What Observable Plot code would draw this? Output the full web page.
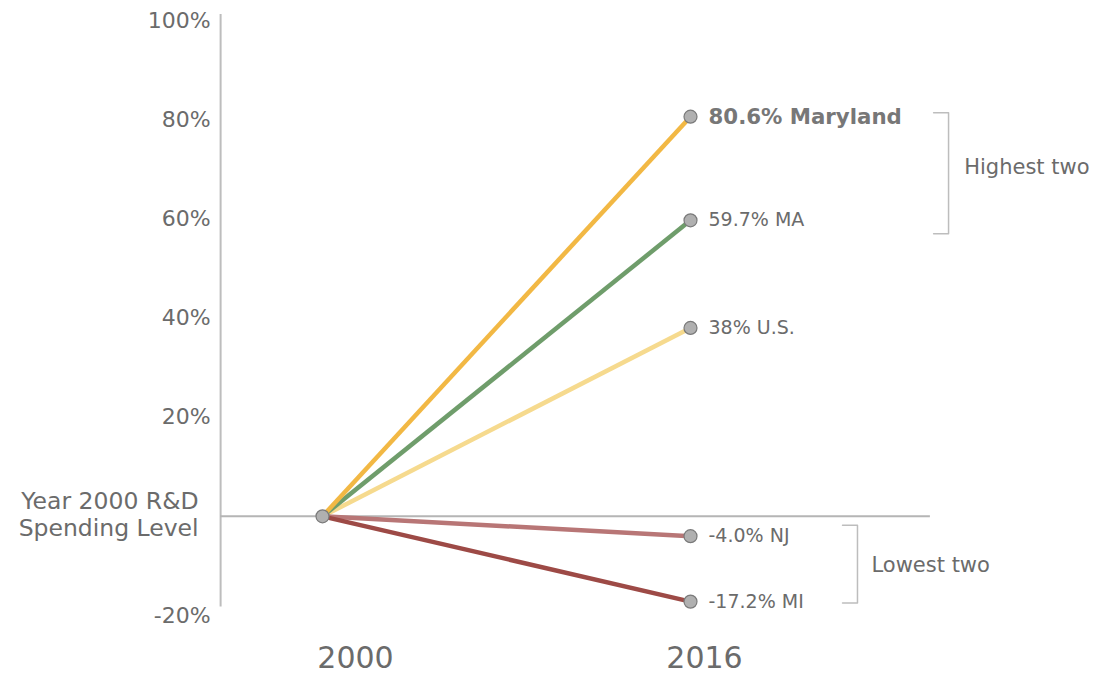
<!DOCTYPE html>
<html><head><meta charset="utf-8">
<script src="https://cdn.jsdelivr.net/npm/d3@7"></script>
<script src="https://cdn.jsdelivr.net/npm/@observablehq/plot@0.6"></script>
<style>body{margin:0;background:#fff}svg{overflow:visible}</style>
</head><body><div id="chart"></div>
<script>
const years = [2000, 2016];
const series = ["U.S.", "MA", "Maryland", "NJ", "MI"];
const change2016 = [38, 59.7, 80.6, -4.0, -17.2];
const labels = ["38% U.S.", "59.7% MA", "80.6% Maryland", "-4.0% NJ", "-17.2% MI"];
const colors = ["#f6da8e", "#6f9d6b", "#f2b844", "#b87676", "#9d4a46"];
const yTicks = [100, 80, 60, 40, 20, -20];
const yTickLabels = ["100%", "80%", "60%", "40%", "20%", "-20%"];
const baselineLabel = "Year 2000 R&D\nSpending Level";
// annotation anchors in data units
const axisX = 1995.57, zeroLineEnd = 2026.43;
const highBracket = {x0: 2026.57, x1: 2027.22, top: 81.4, bottom: 57.0, labelX: 2027.9, labelY: 70.4, text: "Highest two"};
const lowBracket = {x0: 2022.61, x1: 2023.26, top: -1.8, bottom: -17.5, labelX: 2023.87, labelY: -9.9, text: "Lowest two"};

const rows = series.flatMap((s, i) => [
  {series: s, year: years[0], value: 0, color: colors[i]},
  {series: s, year: years[1], value: change2016[i], color: colors[i]}
]);
const ends = series.map((s, i) => ({series: s, year: years[1], value: change2016[i], label: labels[i]}));
const ticks = yTicks.map((v, i) => ({v, label: yTickLabels[i]}));
const bracketPts = b => [
  {x: b.x0, y: b.top}, {x: b.x1, y: b.top}, {x: b.x1, y: b.bottom}, {x: b.x0, y: b.bottom}
];
const font = "DejaVu Sans, sans-serif";
const txt = "#6b6b6b";

const chart = Plot.plot({
  width: 1108, height: 675,
  marginLeft: 322, marginRight: 418, marginTop: 20, marginBottom: 60,
  style: {fontFamily: font, background: "#fff", overflow: "visible"},
  x: {domain: [2000, 2016], axis: null},
  y: {domain: [-20, 100], axis: null},
  marks: [
    Plot.ruleX([axisX], {y1: -18.3, y2: 101.2, stroke: "#bdbdbd", strokeWidth: 2}),
    Plot.ruleY([0], {x1: axisX, x2: zeroLineEnd, stroke: "#b5b5b5", strokeWidth: 2}),
    Plot.text(ticks, {x: axisX, y: "v", text: "label", textAnchor: "end", dx: -10, fontSize: 22, fill: txt}),
    Plot.text([baselineLabel], {x: axisX, y: 0, text: d => d, textAnchor: "end", dx: -22, dy: -2, fontSize: 23.5, lineHeight: 1.15, fill: txt}),
    Plot.text([years[0]], {x: d => d, y: -20, text: d => String(d), dx: 33, dy: 43, fontSize: 30, fill: txt}),
    Plot.text([years[1]], {x: d => d, y: -20, text: d => String(d), dx: 14, dy: 43, fontSize: 30, fill: txt}),
    ...series.map(s => Plot.line(rows.filter(r => r.series === s), {
      x: "year", y: "value", stroke: d => d.color, strokeWidth: 4.5, strokeLinecap: "butt"
    })),
    Plot.dot(ends, {x: "year", y: "value", r: 6.5, fill: "#b0b0b0", stroke: "#7a7a7a", strokeWidth: 1.2}),
    Plot.dot([0], {x: years[0], y: 0, r: 6.5, fill: "#b0b0b0", stroke: "#7a7a7a", strokeWidth: 1.2}),
    Plot.text(ends.filter(d => d.series !== "Maryland"), {x: "year", y: "value", text: "label", textAnchor: "start", dx: 18, fontSize: 19, fill: txt}),
    Plot.text(ends.filter(d => d.series === "Maryland"), {x: "year", y: "value", text: "label", textAnchor: "start", dx: 18, fontSize: 21.3, fontWeight: "bold", fill: "#777"}),
    Plot.line(bracketPts(highBracket), {x: "x", y: "y", stroke: "#bdbdbd", strokeWidth: 1.5}),
    Plot.line(bracketPts(lowBracket), {x: "x", y: "y", stroke: "#bdbdbd", strokeWidth: 1.5}),
    Plot.text([highBracket, lowBracket], {x: "labelX", y: "labelY", text: "text", textAnchor: "start", fontSize: 21, fill: txt})
  ]
});
document.getElementById("chart").appendChild(chart);
</script>
</body></html>
